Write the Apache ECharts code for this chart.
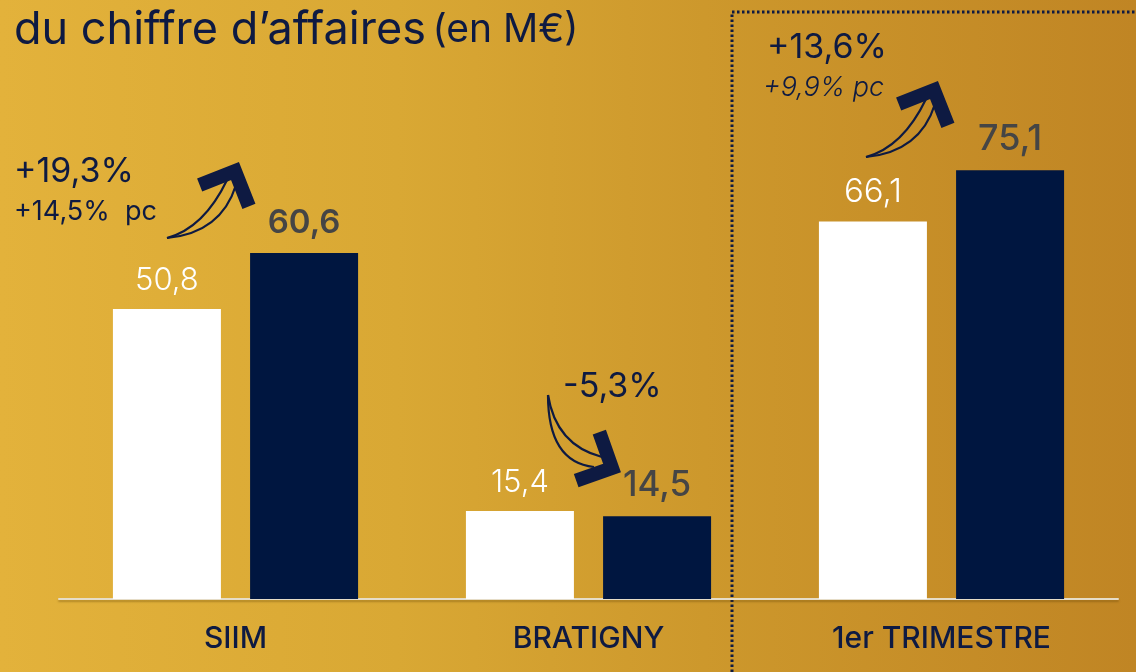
<!DOCTYPE html>
<html>
<head>
<meta charset="utf-8">
<style>
    html, body { margin: 0; padding: 0; }
    #main {
        width: 1136px; height: 672px;
        background: linear-gradient(90deg, #E3B23B 0%, #D9A834 35%, #CD982C 62%, #C08524 100%);
    }
</style>
<script src="https://cdn.jsdelivr.net/npm/echarts@6/dist/echarts.min.js"></script>
</head>
<body>
<div id="main"></div>
<script>
    // données (en M€)
    var categories = ['SIIM', 'BRATIGNY', '1er TRIMESTRE'];
    var previous = [50.8, 15.4, 66.1];
    var current = [60.6, 14.5, 75.1];

    var NAVY = '#0E1A42';
    var FONT = 'Inter';

    var prevSize = [31, 31, 33];
    var curSize = [33, 35, 36];
    var curWeight = [600, 500, 500];

    function fmt(p) { return String(p.value).replace('.', ','); }

    // flèche courbe : deux traits fins + chevron épais
    function arrow(dx, dy, t, a, ca, b, cb, apex, ang) {
        var r = ang * Math.PI / 180;
        var back1 = r + Math.PI + Math.PI / 4, back2 = r + Math.PI - Math.PI / 4;
        var L = 38;
        var line = { stroke: NAVY, fill: null, lineWidth: 2.2 };
        return [
            { type: 'bezierCurve', shape: { x1: t[0] + dx, y1: t[1] + dy, x2: a[0] + dx, y2: a[1] + dy, cpx1: ca[0] + dx, cpy1: ca[1] + dy }, style: line },
            { type: 'bezierCurve', shape: { x1: t[0] + dx, y1: t[1] + dy, x2: b[0] + dx, y2: b[1] + dy, cpx1: cb[0] + dx, cpy1: cb[1] + dy }, style: line },
            { type: 'polyline', shape: { points: [
                [apex[0] + dx + L * Math.cos(back1), apex[1] + dy + L * Math.sin(back1)],
                [apex[0] + dx, apex[1] + dy],
                [apex[0] + dx + L * Math.cos(back2), apex[1] + dy + L * Math.sin(back2)]
            ] }, style: { stroke: NAVY, fill: null, lineWidth: 14, lineJoin: 'miter', lineCap: 'butt' } }
        ];
    }

    var upArrow = function (dx, dy) {
        return arrow(dx, dy, [167, 238], [227, 180], [204, 228], [236, 185], [221, 233], [235, 171], -66.5);
    };
    var downArrow = arrow(0, 0, [548, 395], [602, 457], [556, 445], [594, 467], [548, 462], [612, 468], 25.5);

    var myChart = echarts.init(document.getElementById('main'));
    var option = {
        backgroundColor: 'transparent',
        grid: { left: 59, right: 18, top: 28, bottom: 73 },
        xAxis: {
            type: 'category',
            data: categories,
            axisTick: { show: false },
            axisLine: { lineStyle: { color: '#E6DDC8', width: 2, shadowColor: 'rgba(90,60,0,0.35)', shadowOffsetY: 2, shadowBlur: 2 } },
            axisLabel: { color: NAVY, fontFamily: FONT, fontSize: 30, fontWeight: 500, margin: 25 }
        },
        yAxis: { type: 'value', min: 0, max: 100, show: false },
        series: [
            {
                type: 'bar',
                barWidth: 108,
                barGap: '27%',
                itemStyle: { color: '#FFFFFF' },
                data: previous.map(function (v, i) {
                    return { value: v, label: { fontSize: prevSize[i] } };
                }),
                label: { show: true, position: 'top', distance: 13, color: '#FFFFFF', fontFamily: FONT, fontWeight: 300, formatter: fmt }
            },
            {
                type: 'bar',
                barWidth: 108,
                itemStyle: { color: '#001640' },
                data: current.map(function (v, i) {
                    return { value: v, label: { fontSize: curSize[i], fontWeight: curWeight[i] } };
                }),
                label: { show: true, position: 'top', distance: 13, color: '#454545', fontFamily: FONT, formatter: fmt }
            }
        ],
        graphic: [
            { type: 'text', x: 14, y: 8, style: {
                text: '{a|du chiffre d’affaires}  {b|(en M€)}',
                rich: {
                    a: { fontSize: 45, fontFamily: FONT, fill: NAVY, fontWeight: 400 },
                    b: { fontSize: 39, fontFamily: FONT, fill: NAVY, fontWeight: 400 }
                }
            } },
            { type: 'polyline', shape: { points: [[732, 672], [732, 12], [1136, 12]] },
              style: { stroke: NAVY, fill: null, lineWidth: 3, lineDash: [2.5, 2.5] } },
            { type: 'text', x: 14, y: 155, style: { text: '+19,3%', fontSize: 34, fontFamily: FONT, fill: NAVY } },
            { type: 'text', x: 14, y: 198, style: { text: '+14,5%  pc', fontSize: 27, fontFamily: FONT, fill: NAVY } },
            { type: 'text', x: 563, y: 370, style: { text: '-5,3%', fontSize: 34, fontFamily: FONT, fill: NAVY } },
            { type: 'text', x: 767, y: 31, style: { text: '+13,6%', fontSize: 34, fontFamily: FONT, fill: NAVY } },
            { type: 'text', x: 763, y: 74, style: { text: '+9,9% pc', fontSize: 27, fontFamily: FONT, fontStyle: 'italic', fontWeight: 300, fill: NAVY } }
        ].concat(upArrow(0, 0), downArrow, upArrow(699, -81))
    };
    myChart.setOption(option);
</script>
</body>
</html>
